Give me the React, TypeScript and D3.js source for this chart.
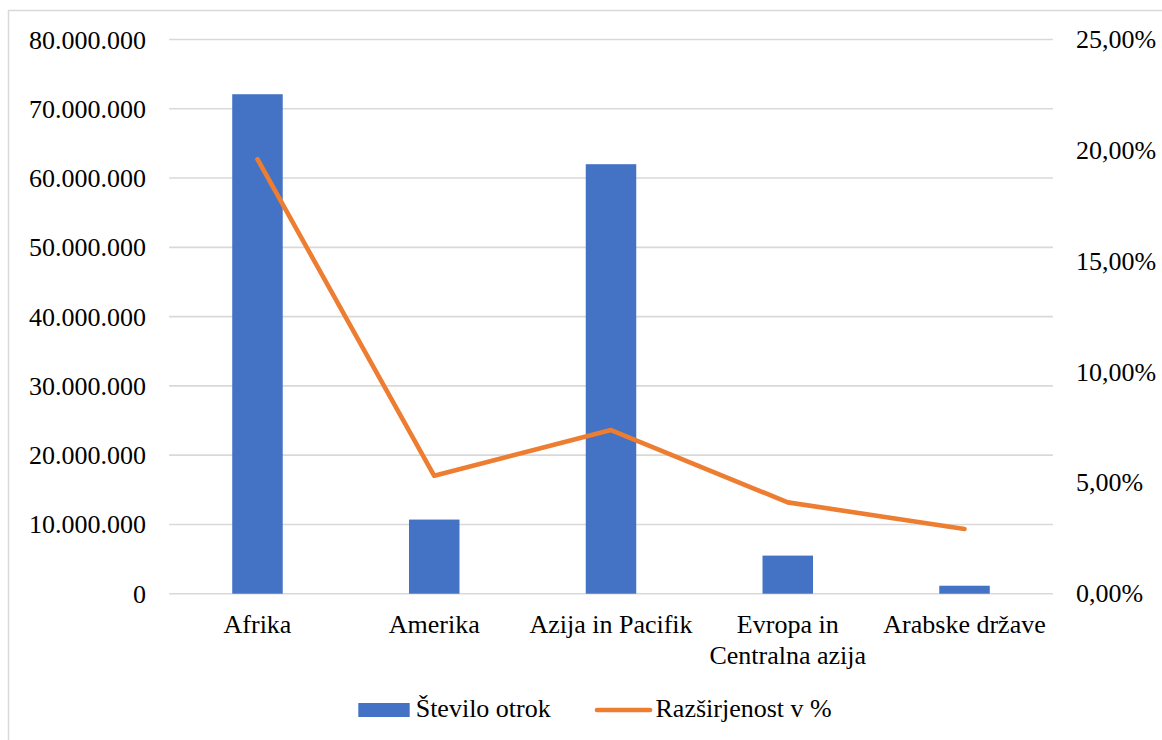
import React from "react";
import * as d3 from "d3";

const categories: string[][] = [
  ["Afrika"],
  ["Amerika"],
  ["Azija in Pacifik"],
  ["Evropa in", "Centralna azija"],
  ["Arabske države"],
];
const children: number[] = [72100000, 10700000, 62000000, 5500000, 1150000];
const prevalence: number[] = [19.6, 5.32, 7.38, 4.12, 2.92];
const leftTicks: number[] = [0, 10000000, 20000000, 30000000, 40000000, 50000000, 60000000, 70000000, 80000000];
const rightTicks: number[] = [0, 5, 10, 15, 20, 25];
const seriesNames: string[] = ["Število otrok", "Razširjenost v %"];

const W = 1162;
const H = 740;
const FONT = '"Liberation Serif", "Times New Roman", Tinos, "DejaVu Serif", serif';
const BLUE = "#4472C4";
const ORANGE = "#ED7D31";
const GRID = "#D9D9D9";

const left = 169.1;
const right = 1052.9;
const top = 39.5;
const bottom = 593.7;

const fmtLeft = (v: number) => (v === 0 ? "0" : d3.format(",")(v).replace(/,/g, "."));
const fmtRight = (v: number) => v.toFixed(2).replace(".", ",") + "%";

const txt: React.CSSProperties = { fontFamily: FONT, fontSize: 26 };

export default function App() {
  const idx = categories.map((_, i) => String(i));
  const x = d3.scaleBand<string>().domain(idx).range([left, right]).paddingInner(2.5 / 3.5).paddingOuter(1.25 / 3.5);
  const yL = d3.scaleLinear().domain([0, 80000000]).range([bottom, top]);
  const yR = d3.scaleLinear().domain([0, 25]).range([bottom, top]);
  const cx = (i: number) => (x(String(i)) as number) + x.bandwidth() / 2;
  const line = d3
    .line<number>()
    .x((_, i) => cx(i))
    .y((d) => yR(d));

  return (
    <svg
      width={W}
      height={H}
      style={{ position: "absolute", left: 0, top: 0, background: "#fff", fontFamily: FONT }}
    >
      <rect x={8.5} y={10.5} width={1160} height={740} fill="#fff" stroke={GRID} strokeWidth={1.5} />
      {leftTicks.map((t) => (
        <line key={"g" + t} x1={left} x2={right} y1={yL(t)} y2={yL(t)} stroke={GRID} strokeWidth={1.6} />
      ))}
      {leftTicks.map((t) => (
        <text key={"l" + t} x={146} y={yL(t) + 9} textAnchor="end" style={txt} fill="#000">
          {fmtLeft(t)}
        </text>
      ))}
      {rightTicks.map((t) => (
        <text key={"r" + t} x={1076} y={yR(t) + 8.5} textAnchor="start" style={txt} fill="#000">
          {fmtRight(t)}
        </text>
      ))}
      {children.map((v, i) => (
        <rect
          key={"b" + i}
          x={x(String(i)) as number}
          y={yL(v)}
          width={x.bandwidth()}
          height={bottom - yL(v)}
          fill={BLUE}
        />
      ))}
      <path
        d={line(prevalence) || ""}
        fill="none"
        stroke={ORANGE}
        strokeWidth={4.6}
        strokeLinecap="round"
        strokeLinejoin="round"
      />
      {categories.map((lines, i) => (
        <text key={"c" + i} x={cx(i)} y={633} textAnchor="middle" style={txt} fill="#000">
          {lines.map((l, j) => (
            <tspan key={j} x={cx(i)} dy={j === 0 ? 0 : 30.6}>
              {l}
            </tspan>
          ))}
        </text>
      ))}
      <rect x={358.3} y={703} width={51.4} height={14} fill={BLUE} />
      <text x={415.7} y={717} style={txt} fill="#000">
        {seriesNames[0]}
      </text>
      <line x1={597} x2={650} y1={710} y2={710} stroke={ORANGE} strokeWidth={4.6} strokeLinecap="round" />
      <text x={655.5} y={717} style={txt} fill="#000">
        {seriesNames[1]}
      </text>
    </svg>
  );
}
